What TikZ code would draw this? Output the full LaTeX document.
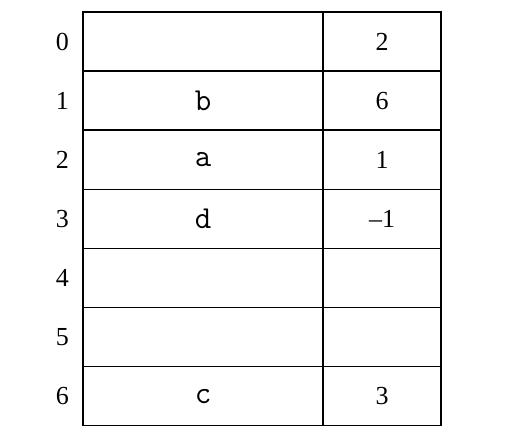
\documentclass[tikz,border=0pt]{standalone}
\usepackage{fontspec}
\setmainfont{Liberation Serif}
\usetikzlibrary{positioning}

\tikzset{
  cell/.style={draw, line width=1.5pt, outer sep=0pt, inner sep=0pt, minimum height=59.1pt},
  keycell/.style={cell, minimum width=240pt, font=\ttfamily\fontsize{32}{32}\selectfont},
  valcell/.style={cell, minimum width=118pt, font=\fontsize{26}{26}\selectfont},
  idx/.style={inner sep=0pt, font=\fontsize{26}{26}\selectfont}
}

\begin{document}
\begin{tikzpicture}[x=1pt,y=-1pt]
	\useasboundingbox (0,0) rectangle (508,440);
	% hash table: index, key, value
	\foreach \i/\k/\v in {0//2, 1/b/6, 2/a/1, 3/d/{--1}, 4//, 5//, 6/c/3}{
		\node[keycell] (key\i) at (203,{12+59.1*\i+29.55}) {\k};
		\node[valcell, right=0pt of key\i] (val\i) {\v};
		\node[idx, left=14pt of key\i] (idx\i) {\i};
	}
\end{tikzpicture}
\end{document}
